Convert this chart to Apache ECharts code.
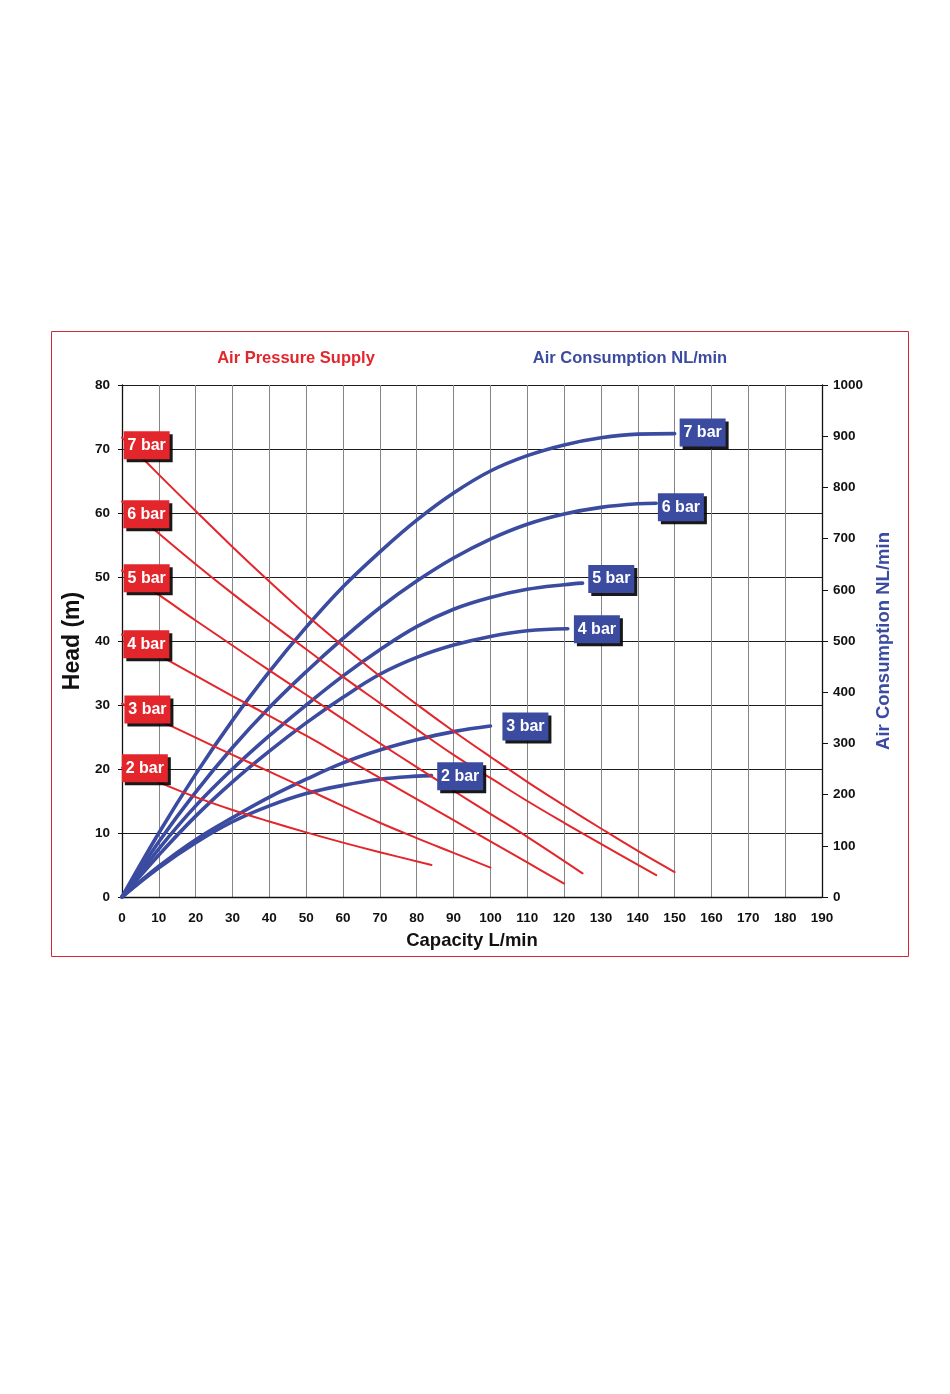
<!DOCTYPE html>
<html>
<head>
<meta charset="utf-8">
<title>Pump curve</title>
<script src="https://cdn.jsdelivr.net/npm/echarts@6.0.0/dist/echarts.min.js"></script>
<style>
  html, body { margin: 0; padding: 0; background: #fff; }
  #container { width: 950px; height: 1394px; }
</style>
</head>
<body>
<div id="container"></div>
<script>
// pressures, shared by both families of curves
var pressures = ['2 bar', '3 bar', '4 bar', '5 bar', '6 bar', '7 bar'];

// head (m) against capacity (L/min), red curves
var head2 = [[0, 20.2], [10, 17.9], [20, 15.6], [30, 13.6], [40, 11.8], [50, 10.1], [60, 8.5], [70, 7.0], [84, 5.0]];
var head3 = [[0, 30.2], [10, 27.6], [20, 24.9], [30, 22.2], [40, 19.6], [50, 16.9], [60, 14.2], [70, 11.6], [80, 9.2], [90, 6.9], [100, 4.6]];
var head4 = [[0, 41], [10, 37.8], [20, 34.6], [30, 31.4], [40, 28.3], [50, 25.2], [60, 21.9], [70, 18.6], [80, 15.3], [90, 12.0], [100, 8.7], [110, 5.4], [120, 2.1]];
var head5 = [[0, 51], [10, 47.2], [20, 43.2], [30, 39.3], [40, 35.4], [50, 31.6], [60, 27.8], [70, 24.0], [80, 20.3], [90, 16.6], [100, 13.0], [110, 9.4], [125, 3.7]];
var head6 = [[0, 61.8], [10, 56.8], [20, 52.0], [30, 47.4], [40, 43.0], [50, 38.7], [60, 34.4], [70, 30.3], [80, 26.2], [90, 22.2], [100, 18.6], [110, 15.0], [120, 11.6], [130, 8.3], [145, 3.4]];
var head7 = [[0, 71.8], [10, 66.0], [20, 60.3], [30, 54.7], [40, 49.3], [50, 44.1], [60, 39.2], [70, 34.5], [80, 30.1], [90, 25.9], [100, 21.9], [110, 18.0], [120, 14.3], [130, 10.7], [140, 7.2], [150, 3.9]];

// air consumption (NL/min) against capacity, blue curves
var air2 = [[0, 0], [10, 57], [20, 106], [30, 147], [40, 178], [50, 202], [60, 218], [70, 230], [80, 236], [84, 237]];
var air3 = [[0, 0], [10, 60], [20, 112], [30, 155], [40, 195], [50, 230], [60, 262], [70, 287], [80, 307], [90, 323], [100, 334]];
var air4 = [[0, 0], [10, 82], [20, 158], [30, 225], [40, 285], [50, 340], [60, 390], [70, 435], [80, 468], [90, 492], [100, 509], [110, 520], [121, 524]];
var air5 = [[0, 0], [10, 94], [20, 178], [30, 250], [40, 315], [50, 375], [60, 432], [70, 483], [80, 528], [90, 562], [100, 585], [110, 601], [120, 610], [125, 613]];
var air6 = [[0, 0], [10, 108], [20, 205], [30, 292], [40, 370], [50, 440], [60, 505], [70, 565], [80, 617], [90, 662], [100, 699], [110, 728], [120, 748], [130, 761], [140, 768], [145, 769]];
var air7 = [[0, 0], [10, 125], [20, 240], [30, 345], [40, 440], [50, 527], [60, 606], [70, 674], [80, 736], [90, 789], [100, 832], [110, 862], [120, 883], [130, 897], [140, 904], [150, 905]];

// where the pressure tags sit, in axis units
var headTagPos = [[6.2, 20.1], [6.9, 29.3], [6.6, 39.5], [6.7, 49.8], [6.6, 59.8], [6.7, 70.6]];
var airTagPos = [[91.8, 236], [109.5, 333], [128.9, 523], [132.8, 621], [151.7, 761], [157.6, 907]];

var RED = '#e3262b';
var BLUE = '#3b4ba0';
var FONT = '"Liberation Sans", Arial, sans-serif';

/*==========================================
 * 曲线系列
 */
function lineSeries(name, data, color, width, yIndex) {
    return {
        name: name,
        type: 'line',
        yAxisIndex: yIndex,
        data: data,
        smooth: 0.4,
        showSymbol: false,
        silent: true,
        lineStyle: { color: color, width: width, cap: 'round' },
        z: yIndex ? 3 : 4
    };
}

/*==========================================
 * 压力标签（带阴影的小方块）
 */
function tagSeries(pos, color, yIndex) {
    var _data = [];
    for (var i = 0; i < pos.length; i++) {
        _data.push({ name: pressures[i], value: pos[i] });
    }
    return {
        type: 'scatter',
        yAxisIndex: yIndex,
        data: _data,
        symbol: 'rect',
        symbolSize: [46, 28],
        silent: true,
        z: 10,
        itemStyle: {
            color: color,
            opacity: 1,
            shadowColor: 'rgba(0,0,0,0.9)',
            shadowBlur: 0,
            shadowOffsetX: 3,
            shadowOffsetY: 3
        },
        label: {
            show: true,
            position: 'inside',
            formatter: function(p) { return p.name; },
            color: '#fff',
            fontFamily: FONT,
            fontWeight: 'bold',
            fontSize: 16
        }
    };
}

var heads = [head2, head3, head4, head5, head6, head7];
var airs = [air2, air3, air4, air5, air6, air7];
var series = [];

for (var i = 0; i < airs.length; i++) {
    series.push(lineSeries('air ' + pressures[i], airs[i], BLUE, 3.6, 1));
}
for (var j = 0; j < heads.length; j++) {
    series.push(lineSeries('head ' + pressures[j], heads[j], RED, 2, 0));
}
series.push(tagSeries(airTagPos, BLUE, 1));
series.push(tagSeries(headTagPos, RED, 0));

var tickLabel = {
    color: '#111',
    fontFamily: FONT,
    fontWeight: 'bold',
    fontSize: 13.5,
    formatter: function(v) { return String(v); }
};

var option = {
    animation: false,
    backgroundColor: '#fff',
    textStyle: { fontFamily: FONT },
    grid: { left: 122, top: 385, width: 700, height: 512, containLabel: false },
    xAxis: {
        type: 'value',
        min: 0,
        max: 190,
        interval: 10,
        name: 'Capacity L/min',
        nameLocation: 'middle',
        nameGap: 34,
        nameTextStyle: { color: '#111', fontFamily: FONT, fontWeight: 'bold', fontSize: 18.5 },
        axisLine: { lineStyle: { color: '#111', width: 1.3 } },
        axisTick: { show: false },
        axisLabel: Object.assign({ margin: 14 }, tickLabel),
        splitLine: { show: true, lineStyle: { color: '#858585', width: 1 } }
    },
    yAxis: [{
        type: 'value',
        position: 'left',
        min: 0,
        max: 80,
        interval: 10,
        name: 'Head (m)',
        nameLocation: 'middle',
        nameRotate: 90,
        nameGap: 36,
        nameTextStyle: { color: '#111', fontFamily: FONT, fontWeight: 'bold', fontSize: 23 },
        axisLine: { show: true, lineStyle: { color: '#111', width: 1.3 } },
        axisTick: { show: true, length: 4, lineStyle: { color: '#111' } },
        axisLabel: Object.assign({ margin: 12 }, tickLabel),
        splitLine: { show: true, lineStyle: { color: '#1c1c1c', width: 1 } }
    }, {
        type: 'value',
        position: 'right',
        min: 0,
        max: 1000,
        interval: 100,
        name: 'Air Consumption NL/min',
        nameLocation: 'middle',
        nameRotate: 90,
        nameGap: 46,
        nameTextStyle: { color: BLUE, fontFamily: FONT, fontWeight: 'bold', fontSize: 18.5 },
        axisLine: { show: true, lineStyle: { color: '#111', width: 1.3 } },
        axisTick: { show: true, length: 6, lineStyle: { color: '#111' } },
        axisLabel: Object.assign({ margin: 11 }, tickLabel),
        splitLine: { show: false }
    }],
    graphic: [{
        type: 'rect',
        shape: { x: 51.5, y: 331.5, width: 857, height: 625 },
        style: { fill: 'none', stroke: '#d2283a', lineWidth: 1 },
        silent: true
    }, {
        type: 'text',
        x: 296,
        y: 358,
        style: {
            text: 'Air Pressure Supply',
            fill: RED,
            font: 'bold 16.5px ' + FONT,
            align: 'center',
            verticalAlign: 'middle'
        }
    }, {
        type: 'text',
        x: 630,
        y: 358,
        style: {
            text: 'Air Consumption NL/min',
            fill: BLUE,
            font: 'bold 16.5px ' + FONT,
            align: 'center',
            verticalAlign: 'middle'
        }
    }],
    series: series
};

var myChart = echarts.init(document.getElementById('container'), null, { renderer: 'canvas' });
myChart.setOption(option, true);
</script>
</body>
</html>
